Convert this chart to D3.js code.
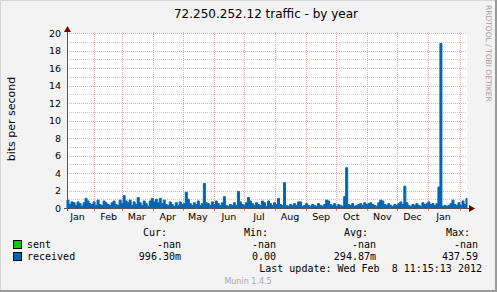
<!DOCTYPE html>
<html>
<head>
<meta charset="utf-8">
<script src="https://cdn.jsdelivr.net/npm/d3@7"></script>
<style>
  body { margin: 0; background: #fff; }
  svg { display: block; }
  text { font-family: "DejaVu Sans", sans-serif; }
  .mono { font-family: "DejaVu Sans Mono", monospace; white-space: pre; }
</style>
</head>
<body>
<svg width="497" height="292"></svg>
<script>
// received traffic, one value every 2 days (bits per second)
var received = [
  0.9, 0.4, 0.7, 0.6, 0.3, 0.7, 0.5, 0.2, 0.6, 1.1,
  0.8, 0.5, 0.4, 0.7, 0.3, 0.9, 0.4, 0.3, 0.8, 0.6,
  0.4, 0.3, 0.6, 0.8, 0.4, 0.3, 0.9, 0.5, 1.4, 0.8,
  0.6, 0.9, 0.3, 0.7, 0.4, 1.2, 0.6, 0.3, 0.8, 0.5,
  0.2, 0.8, 1.1, 0.7, 1.0, 0.6, 1.1, 0.5, 0.9, 0.4,
  0.3, 0.7, 0.4, 0.2, 0.6, 0.3, 0.7, 0.4, 0.5, 1.8,
  1.0, 0.5, 0.3, 0.6, 0.4, 0.8, 0.3, 0.5, 2.8, 0.6,
  0.5, 0.3, 0.7, 0.4, 0.8, 0.5, 0.3, 0.6, 1.3, 0.3,
  0.2, 0.4, 0.3, 0.6, 0.3, 1.9, 0.7, 0.4, 0.3, 0.6,
  1.2, 0.8, 0.5, 0.3, 0.6, 0.4, 0.3, 0.8, 0.6, 0.2,
  0.8, 0.5, 0.3, 0.6, 0.4, 1.1, 0.4, 0.3, 2.9, 0.3,
  0.2, 0.4, 0.3, 0.5, 0.3, 0.7, 0.7, 0.2, 0.3, 0.5,
  0.3, 0.2, 0.4, 0.3, 0.2, 0.5, 0.3, 0.2, 0.4, 0.9,
  0.8, 0.4, 0.3, 0.5, 0.2, 0.4, 0.3, 0.2, 1.3, 4.6,
  0.4, 0.3, 0.5, 0.2, 0.3, 0.4, 0.5, 0.3, 0.6, 0.4,
  0.5, 0.6, 0.4, 0.3, 0.2, 0.6, 0.9, 0.8, 0.4, 0.3,
  0.5, 0.3, 0.2, 0.4, 0.3, 0.5, 0.7, 0.4, 2.5, 0.6,
  0.3, 0.2, 0.4, 0.3, 0.5, 0.3, 0.2, 0.6, 0.4, 0.5,
  0.7, 0.4, 0.5, 0.3, 0.5, 2.4, 18.8, 0.2, 0.3, 0.2,
  0.3, 0.5, 0.9, 0.4, 0.3, 0.6, 0.3, 0.8, 0.4, 1.1
];
var startDate = new Date(2011, 0, 5, 11, 15);
var endDate = new Date(2012, 1, 8, 11, 15);
var stepDays = 2;

var monthLabels = ["Jan", "Feb", "Mar", "Apr", "May", "Jun", "Jul", "Aug", "Sep", "Oct", "Nov", "Dec", "Jan"];
var yTicks = [0, 2, 4, 6, 8, 10, 12, 14, 16, 18, 20];

var legendNames = ["sent", "received"];
var legendColors = ["#00cc00", "#0066b3"];
var legendHeaders = ["Cur:", "Min:", "Avg:", "Max:"];
var legendValues = [
  ["-nan", "-nan", "-nan", "-nan"],
  ["996.30m", "0.00", "294.87m", "437.59"]
];

var svg = d3.select("svg");
var W = 497, H = 292;
var pLeft = 67, pRight = 467, pTop = 33, pBottom = 208;

// frame
svg.append("rect").attr("width", W).attr("height", H).attr("fill", "#f3f3f3");
svg.append("rect").attr("x", 0.5).attr("y", 0.5).attr("width", W - 2).attr("height", H - 2)
  .attr("fill", "none").attr("stroke", "#d4d4d4");
svg.append("line").attr("x1", W - 1).attr("x2", W - 1).attr("y1", 0).attr("y2", H).attr("stroke", "#9a9a9a").attr("stroke-width", 2);
svg.append("line").attr("x1", 0).attr("x2", W).attr("y1", H - 1).attr("y2", H - 1).attr("stroke", "#9a9a9a").attr("stroke-width", 2);

var x = d3.scaleTime().domain([startDate, endDate]).range([pLeft, pRight]);
var y = d3.scaleLinear().domain([0, 20]).range([pBottom, pTop]);

svg.append("rect").attr("x", pLeft).attr("y", pTop).attr("width", pRight - pLeft).attr("height", pBottom - pTop).attr("fill", "#fff");

// horizontal grid
var g = svg.append("g");
d3.range(1, 21).forEach(function(v) {
  var yy = Math.round(y(v)) + 0.5;
  g.append("line").attr("x1", pLeft).attr("x2", pRight).attr("y1", yy).attr("y2", yy)
    .attr("stroke", v % 2 === 0 ? "#f0a8a8" : "#cccccc")
    .attr("stroke-dasharray", "1,1");
});

// vertical month grid
var months = d3.timeMonth.range(d3.timeMonth.ceil(startDate), endDate);
months.forEach(function(m) {
  var xx = Math.round(x(m)) + 0.5;
  g.append("line").attr("x1", xx).attr("x2", xx).attr("y1", pTop - 1).attr("y2", pBottom)
    .attr("stroke", "#f0a8a8").attr("stroke-dasharray", "1,1");
  g.append("line").attr("x1", xx).attr("x2", xx).attr("y1", pBottom).attr("y2", pBottom + 3)
    .attr("stroke", "#e08080");
});

// data area
var pts = received.map(function(v, i) {
  return { t: d3.timeDay.offset(startDate, i * stepDays), v: v };
});
pts.push({ t: endDate, v: received[received.length - 1] });

var area = d3.area()
  .curve(d3.curveStepAfter)
  .x(function(d) { return x(d.t); })
  .y0(y(0))
  .y1(function(d) { return y(d.v); });

svg.append("path").datum(pts)
  .attr("fill", "#0066b3")
  .attr("stroke", "#0066b3")
  .attr("stroke-width", 1)
  .attr("d", area);

// axes
svg.append("line").attr("x1", pLeft + 0.5).attr("x2", pLeft + 0.5).attr("y1", pBottom + 3).attr("y2", pTop - 4)
  .attr("stroke", "#555").attr("stroke-width", 1);
svg.append("line").attr("x1", pLeft - 3).attr("x2", pRight + 3).attr("y1", pBottom + 0.5).attr("y2", pBottom + 0.5)
  .attr("stroke", "#555").attr("stroke-width", 1);
svg.append("path").attr("d", "M" + (pLeft + 0.5) + "," + (pTop - 7) + "L" + (pLeft - 3) + "," + (pTop - 1) + "L" + (pLeft + 4) + "," + (pTop - 1) + "Z")
  .attr("fill", "#7a0000");
svg.append("path").attr("d", "M" + (pRight + 8) + "," + (pBottom + 0.5) + "L" + (pRight + 2) + "," + (pBottom - 3) + "L" + (pRight + 2) + "," + (pBottom + 4) + "Z")
  .attr("fill", "#7a0000");

// y tick labels
svg.append("g").selectAll("text").data(yTicks).join("text")
  .attr("x", 61).attr("y", function(d) { return y(d) + 3.5; })
  .attr("text-anchor", "end").attr("font-size", 9.5).attr("fill", "#000")
  .text(function(d) { return d; });

// month labels, centered in each month
var monthStarts = [d3.timeMonth.floor(startDate)].concat(months);
svg.append("g").selectAll("text").data(monthStarts).join("text")
  .attr("x", function(d) { return x(d3.timeDay.offset(d, 15)); })
  .attr("y", 220).attr("text-anchor", "middle").attr("font-size", 9.5).attr("fill", "#000")
  .text(function(d, i) { return monthLabels[i]; });

// titles
svg.append("text").attr("x", 266).attr("y", 18).attr("text-anchor", "middle")
  .attr("font-size", 12).attr("fill", "#000").text("72.250.252.12 traffic - by year");
svg.append("text").attr("transform", "translate(15,119) rotate(-90)").attr("text-anchor", "middle")
  .attr("font-size", 11).attr("fill", "#000").text("bits per second");
svg.append("text").attr("transform", "translate(486,5) rotate(90)").attr("text-anchor", "start")
  .attr("font-size", 7.5).attr("fill", "#a0a0a0").text("RRDTOOL / TOBI OETIKER");

// legend
var colRight = [181, 276, 376, 478];
var headRight = [167, 268, 368, 470];
svg.append("g").selectAll("text").data(legendHeaders).join("text")
  .attr("class", "mono").attr("x", function(d, i) { return headRight[i]; }).attr("y", 236)
  .attr("text-anchor", "end").attr("font-size", 10).text(function(d) { return d; });

legendNames.forEach(function(name, r) {
  var by = 248 + r * 12;
  svg.append("rect").attr("x", 13.5).attr("y", by - 7.5).attr("width", 8).attr("height", 8)
    .attr("fill", legendColors[r]).attr("stroke", "#000");
  svg.append("text").attr("class", "mono").attr("x", 27).attr("y", by).attr("font-size", 10).text(name);
  legendValues[r].forEach(function(v, c) {
    svg.append("text").attr("class", "mono").attr("x", colRight[c]).attr("y", by)
      .attr("text-anchor", "end").attr("font-size", 10).text(v);
  });
});

svg.append("text").attr("class", "mono").attr("x", 482).attr("y", 272).attr("text-anchor", "end")
  .attr("font-size", 10).text("Last update: Wed Feb  8 11:15:13 2012");
svg.append("text").attr("x", 248).attr("y", 284).attr("text-anchor", "middle")
  .attr("font-size", 8).attr("fill", "#a8a8a8").text("Munin 1.4.5");
</script>
</body>
</html>
